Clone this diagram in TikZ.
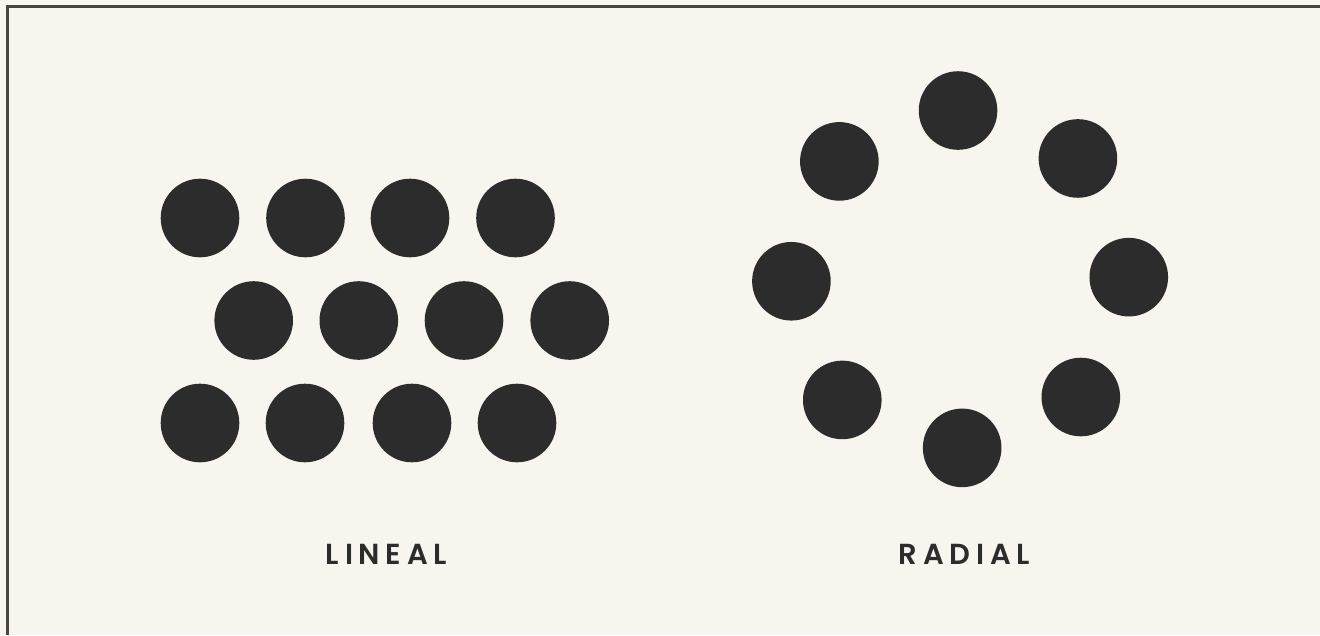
\documentclass[tikz,border=0pt]{standalone}
\usepackage{fontspec}
\usepackage{xcolor}
\usetikzlibrary{calc}
\newfontfamily\lblfont[LetterSpace=20]{Poppins SemiBold}
\definecolor{paper}{HTML}{F8F5EE}
\definecolor{frame}{HTML}{4C443E}
\definecolor{ink}{HTML}{2C2C2C}
\tikzset{
  dot/.style={circle, fill=ink, minimum size=78.6pt, inner sep=0pt},
  lbl/.style={text=ink, inner sep=0pt, font=\lblfont\fontsize{29}{29}\selectfont},
}
\begin{document}
\begin{tikzpicture}[x=1pt, y=-1pt]
  \useasboundingbox (0,0) rectangle (1320,635);
  \fill[paper] (0,0) rectangle (1320,635);
  \draw[frame, line width=3pt] (7.5,635) -- (7.5,6.7) -- (1320,6.7);

  \foreach \i/\x in {0/200,1/305.5,2/410,3/515.5}
    \node[dot] (a\i) at (\x,218) {};
  \foreach \i/\x in {0/253.7,1/358.8,2/464,3/569.7}
    \node[dot] (b\i) at (\x,320.5) {};
  \foreach \i/\x in {0/200,1/305,2/412,3/517}
    \node[dot] (c\i) at (\x,423) {};

  \coordinate (rc) at (960.1,279.2);
  \foreach \i in {0,...,7}
    \node[dot] (r\i) at ($(rc)+(\i*45-0.7:168.7)$) {};

  \node[lbl] (lineal) at (386.5,554.5) {LINEAL};
  \node[lbl] (radial) at (964.5,554.5) {RADIAL};
\end{tikzpicture}
\end{document}
